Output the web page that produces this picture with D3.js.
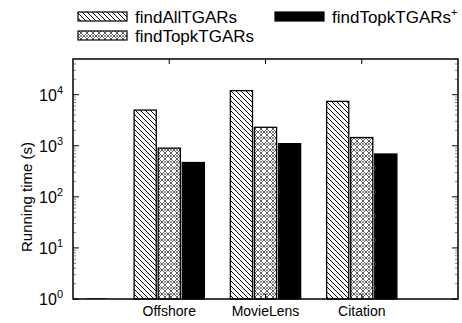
<!DOCTYPE html>
<html>
<head>
<meta charset="utf-8">
<script src="https://cdn.jsdelivr.net/npm/d3@7"></script>
<style>
  body { margin: 0; background: #fff; }
  text { font-family: "Liberation Sans", Arial, sans-serif; fill: #000; }
</style>
</head>
<body>
<div id="grafico"></div>
<script>
const categorias = ["Offshore", "MovieLens", "Citation"];
const findAll = [5000, 12000, 7400];
const findTopk = [900, 2300, 1450];
const findTopkPlus = [470, 1100, 690];
const ticksY = [1, 10, 100, 1000, 10000];

const largura = 462, altura = 323;
const svg = d3.select("#grafico").append("svg")
    .attr("width", largura).attr("height", altura);

// padroes de preenchimento
const defs = svg.append("defs");
const hatch = defs.append("pattern").attr("id", "hatch")
    .attr("patternUnits", "userSpaceOnUse").attr("width", 5).attr("height", 5);
hatch.append("path").attr("d", "M-1,-1L6,6M-1,4L1,6M4,-1L6,1")
    .attr("stroke", "#000").attr("stroke-width", 1);
const cross = defs.append("pattern").attr("id", "cross")
    .attr("patternUnits", "userSpaceOnUse").attr("width", 6).attr("height", 6);
cross.append("path").attr("d", "M0,0L6,6M6,0L0,6")
    .attr("stroke", "#333").attr("stroke-width", 0.8);
cross.append("circle").attr("cx", 3).attr("cy", 0).attr("r", 0.8).attr("fill", "#000");
cross.append("circle").attr("cx", 3).attr("cy", 6).attr("r", 0.8).attr("fill", "#000");

const x = d3.scaleLinear().domain([0, 4]).range([73, 458]);
const y = d3.scaleLog().domain([1, 5e4]).range([299, 59]);

const dados = [
    { nome: "findAllTGARs", valores: findAll, fill: "url(#hatch)" },
    { nome: "findTopkTGARs", valores: findTopk, fill: "url(#cross)" },
    { nome: "findTopkTGARs+", valores: findTopkPlus, fill: "#000" }
];

// linha cinza no canto (resto de barra)
svg.append("line").attr("x1", 86).attr("x2", 107).attr("y1", 298.5).attr("y2", 298.5)
    .attr("stroke", "#999").attr("stroke-width", 1.2);

// barras
dados.forEach((s, si) => {
    svg.selectAll(".bar" + si)
        .data(s.valores)
        .enter().append("rect")
        .attr("x", (d, i) => x(i + 1 + (si - 1) * 0.25 - 0.115))
        .attr("width", x(0.23) - x(0))
        .attr("y", d => y(d))
        .attr("height", d => y(1) - y(d))
        .attr("fill", s.fill)
        .attr("stroke", "#000")
        .attr("stroke-width", 1.3);
});

// moldura
svg.append("rect").attr("x", 73).attr("y", 59).attr("width", 385).attr("height", 240)
    .attr("fill", "none").attr("stroke", "#000").attr("stroke-width", 1.5);

// ticks do eixo y (maiores e menores)
const menores = [];
ticksY.forEach(t => { for (let k = 2; k <= 9; k++) if (t * k < 5e4) menores.push(t * k); });
[x(0), x(4)].forEach((px, lado) => {
    const dir = lado === 0 ? 1 : -1;
    svg.selectAll(null).data(ticksY).enter().append("line")
        .attr("x1", px).attr("x2", px + dir * 6)
        .attr("y1", d => y(d)).attr("y2", d => y(d))
        .attr("stroke", "#000").attr("stroke-width", 1);
    svg.selectAll(null).data(menores).enter().append("line")
        .attr("x1", px).attr("x2", px + dir * 3)
        .attr("y1", d => y(d)).attr("y2", d => y(d))
        .attr("stroke", "#333").attr("stroke-width", 0.6);
});
// ticks do eixo x
[y(1), y(5e4)].forEach((py, lado) => {
    const dir = lado === 0 ? -1 : 1;
    svg.selectAll(null).data(categorias).enter().append("line")
        .attr("x1", (d, i) => x(i + 1)).attr("x2", (d, i) => x(i + 1))
        .attr("y1", py).attr("y2", py + dir * 5)
        .attr("stroke", "#000").attr("stroke-width", 1);
});

// rotulos do eixo y
const rot = svg.selectAll(".ylab").data(ticksY).enter().append("text")
    .attr("x", 63).attr("y", d => y(d) + 6)
    .attr("text-anchor", "end").style("font-size", "16px");
rot.append("tspan").text("10");
rot.append("tspan").attr("dy", -7).style("font-size", "11px").text(d => Math.round(Math.log10(d)));

// rotulos do eixo x
svg.selectAll(".xlab").data(categorias).enter().append("text")
    .attr("x", (d, i) => x(i + 1)).attr("y", 316)
    .attr("text-anchor", "middle").style("font-size", "14px")
    .text(d => d);

// titulo do eixo y
svg.append("text")
    .attr("transform", "translate(32,197) rotate(-90)")
    .attr("text-anchor", "middle").style("font-size", "15px")
    .text("Running time (s)");

// legenda
const legenda = [
    { x: 78, y: 12, fill: "url(#hatch)", nome: "findAllTGARs", sup: "" },
    { x: 78, y: 31, fill: "url(#cross)", nome: "findTopkTGARs", sup: "" },
    { x: 275, y: 12, fill: "#000", nome: "findTopkTGARs", sup: "+" }
];
legenda.forEach(l => {
    svg.append("rect").attr("x", l.x).attr("y", l.y).attr("width", 49).attr("height", 9)
        .attr("fill", l.fill).attr("stroke", "#000").attr("stroke-width", 1.2);
    const t = svg.append("text").attr("x", l.x + 57).attr("y", l.y + 10.5)
        .style("font-size", "17px");
    t.append("tspan").text(l.nome);
    if (l.sup) t.append("tspan").attr("dy", -7).style("font-size", "11px").text(l.sup);
});
</script>
</body>
</html>
